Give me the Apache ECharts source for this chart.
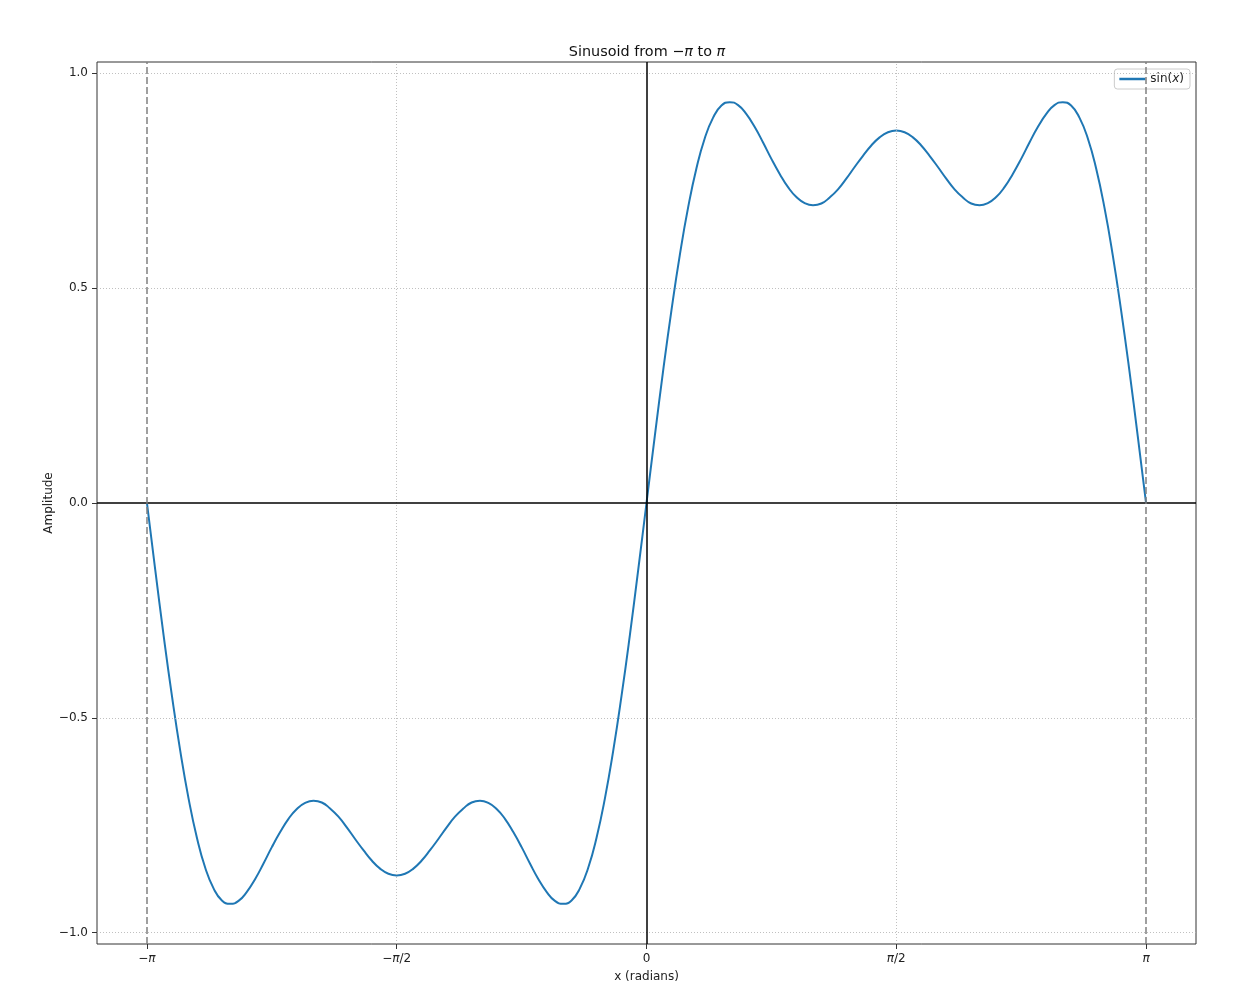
<!DOCTYPE html>
<html>
<head>
<meta charset="utf-8">
<script src="https://cdn.jsdelivr.net/npm/echarts@6/dist/echarts.min.js"></script>
<style>html,body{margin:0;padding:0;background:#fff}#c{width:1255px;height:1000px}</style>
</head>
<body>
<div id="c"></div>
<script>
// x in degrees (axis labelled in multiples of pi)
var xDeg = [-180,-177,-174,-171,-168,-165,-162,-159,-156,-153,-150,-147,-144,-141,-138,-135,-132,-129,-126,-123,-120,-117,-114,-111,-108,-105,-102,-99,-96,-93,-90,-87,-84,-81,-78,-75,-72,-69,-66,-63,-60,-57,-54,-51,-48,-45,-42,-39,-36,-33,-30,-27,-24,-21,-18,-15,-12,-9,-6,-3,
0,3,6,9,12,15,18,21,24,27,30,33,36,39,42,45,48,51,54,57,60,63,66,69,72,75,78,81,84,87,90,93,96,99,102,105,108,111,114,117,120,123,126,129,132,135,138,141,144,147,150,153,156,159,162,165,168,171,174,177,180];
var amplitude = [0,-0.156,-0.308,-0.449,-0.577,-0.688,-0.779,-0.849,-0.897,-0.925,-0.933,-0.926,-0.905,-0.875,-0.839,-0.801,-0.766,-0.735,-0.712,-0.698,-0.693,-0.697,-0.711,-0.730,-0.755,-0.782,-0.808,-0.832,-0.851,-0.863,-0.867,-0.863,-0.851,-0.832,-0.808,-0.782,-0.755,-0.730,-0.711,-0.697,-0.693,-0.698,-0.712,-0.735,-0.766,-0.801,-0.839,-0.875,-0.905,-0.926,-0.933,-0.925,-0.897,-0.849,-0.779,-0.688,-0.577,-0.449,-0.308,-0.156,
0,0.156,0.308,0.449,0.577,0.688,0.779,0.849,0.897,0.925,0.933,0.926,0.905,0.875,0.839,0.801,0.766,0.735,0.712,0.698,0.693,0.697,0.711,0.730,0.755,0.782,0.808,0.832,0.851,0.863,0.867,0.863,0.851,0.832,0.808,0.782,0.755,0.730,0.711,0.697,0.693,0.698,0.712,0.735,0.766,0.801,0.839,0.875,0.905,0.926,0.933,0.925,0.897,0.849,0.779,0.688,0.577,0.449,0.308,0.156,0];
var xTickVals = [-180,-90,0,90,180];
var xTickLabels = ['−{i|π}','−{i|π}/2','0','{i|π}/2','{i|π}'];
var yTickVals = [-1,-0.5,0,0.5,1];
var yTickLabels = ['−1.0','−0.5','0.0','0.5','1.0'];
var xRange = [-198,198];
var yRange = [-1.0264,1.0264];
var gridXVals = [-90,90];
var gridYVals = [-1,-0.5,0.5,1];
var boundaryX = [-180,180];

var FONT = 'DejaVu Sans';
var pts = xDeg.map(function(x,i){return [x, amplitude[i]];});
var chart = echarts.init(document.getElementById('c'), null, {renderer:'canvas'});
chart.setOption({
  animation:false,
  backgroundColor:'#fff',
  title:{
    text:'{n|Sinusoid from −}{i|π}{n| to }{i|π}',
    left:642, top:40, textAlign:'center',
    textStyle:{fontWeight:'normal',rich:{
      n:{fontFamily:FONT,fontSize:14.4,fontWeight:'normal',color:'#111'},
      i:{fontFamily:FONT,fontSize:14.4,fontWeight:'normal',fontStyle:'italic',color:'#111'}
    }}
  },
  legend:{
    right:65, top:69,
    data:[{name:'sin(x)', icon:'rect'}],
    formatter:function(){return '{n|sin(}{i|x}{n|)}';},
    itemWidth:26, itemHeight:2.5, itemGap:8,
    padding:[4,6,4,5],
    borderColor:'#cccccc', borderWidth:1, borderRadius:3,
    backgroundColor:'rgba(255,255,255,0.8)',
    textStyle:{rich:{
      n:{fontFamily:FONT,fontSize:12,color:'#222'},
      i:{fontFamily:FONT,fontSize:12,fontStyle:'italic',color:'#222'}
    }}
  },
  grid:{left:97,right:59,top:62,bottom:56,show:true,borderColor:'#333',borderWidth:1,backgroundColor:'#fff'},
  xAxis:{
    type:'value', min:xRange[0], max:xRange[1],
    name:'x (radians)', nameLocation:'middle', nameGap:27, nameMoveOverlap:false,
    nameTextStyle:{fontFamily:FONT,fontSize:12,color:'#222'},
    axisLine:{show:false,onZero:false},
    splitLine:{show:false},
    axisTick:{show:true,customValues:xTickVals,length:5,lineStyle:{color:'#333'}},
    axisLabel:{
      customValues:xTickVals, margin:9,
      fontFamily:FONT,fontSize:12,color:'#222',
      formatter:function(v){var k=xTickVals.indexOf(v);return k>=0?xTickLabels[k]:'';},
      rich:{i:{fontFamily:FONT,fontSize:12,fontStyle:'italic',color:'#222'}}
    }
  },
  yAxis:{
    type:'value', min:yRange[0], max:yRange[1],
    name:'Amplitude', nameLocation:'middle', nameGap:42, nameMoveOverlap:false,
    nameTextStyle:{fontFamily:FONT,fontSize:12,color:'#222'},
    axisLine:{show:false,onZero:false},
    splitLine:{show:false},
    axisTick:{show:true,customValues:yTickVals,length:5,lineStyle:{color:'#333'}},
    axisLabel:{
      customValues:yTickVals, margin:9,
      fontFamily:FONT,fontSize:12,color:'#222',
      formatter:function(v){var k=-1;for(var j=0;j<yTickVals.length;j++){if(Math.abs(yTickVals[j]-v)<1e-9)k=j;}return k>=0?yTickLabels[k]:'';}
    }
  },
  series:[
    {
      name:'grid', type:'line', data:[], silent:true, z:1,
      markLine:{
        silent:true, symbol:'none', label:{show:false}, animation:false,
        lineStyle:{color:'#b0b0b0',width:0.8,type:[1,2]},
        data:gridXVals.map(function(v){return {xAxis:v};}).concat(gridYVals.map(function(v){return {yAxis:v};}))
      }
    },
    {
      name:'sin(x)', type:'line', data:pts, symbol:'none', showSymbol:false, smooth:0.5, smoothMonotone:'none', z:3,
      lineStyle:{color:'#1f77b4',width:2}, itemStyle:{color:'#1f77b4'}
    },
    {
      name:'zero', type:'line', data:[], silent:true, z:4,
      markLine:{
        silent:true, symbol:'none', label:{show:false}, animation:false,
        lineStyle:{color:'#000',width:1.5,type:'solid'},
        data:[{yAxis:0},{xAxis:0}]
      }
    },
    {
      name:'bounds', type:'line', data:[], silent:true, z:5,
      markLine:{
        silent:true, symbol:'none', label:{show:false}, animation:false,
        lineStyle:{color:'#808080',width:1.5,type:[7,3]},
        data:boundaryX.map(function(v){return {xAxis:v};})
      }
    }
  ]
});
</script>
</body>
</html>
